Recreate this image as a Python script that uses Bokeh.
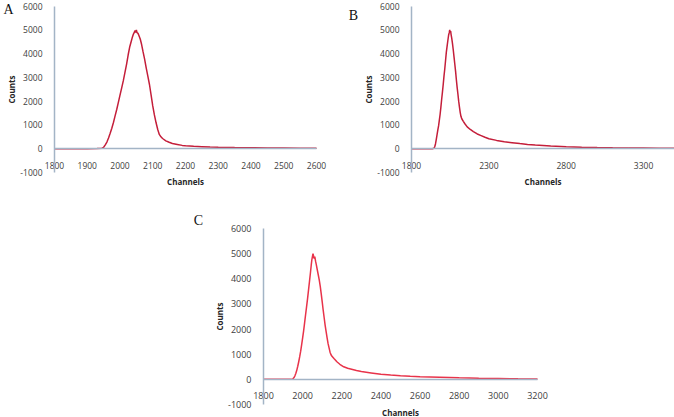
from bokeh.plotting import figure
from bokeh.models import FixedTicker, Label, Spacer
from bokeh.layouts import row, column
from bokeh.embed import file_html
from bokeh.resources import INLINE

# ---------------- data ----------------
chA = [1800, 1850, 1900, 1930, 1945, 1950, 1955, 1960, 1965, 1970, 1975, 1980, 1985, 1990, 1995,
       2000, 2005, 2010, 2015, 2020, 2025, 2030, 2034, 2038, 2041, 2044, 2046, 2048, 2050, 2052,
       2055, 2058, 2062, 2066, 2070, 2075, 2080, 2085, 2090, 2095, 2100, 2105, 2110, 2115, 2120,
       2125, 2130, 2140, 2150, 2160, 2175, 2190, 2200, 2225, 2250, 2275, 2300, 2350, 2400, 2450,
       2500, 2550, 2600]
cntA = [0, 0, 0, 5, 20, 60, 160, 280, 450, 650, 860, 1100, 1380, 1650, 1950,
        2250, 2550, 2850, 3200, 3550, 3950, 4300, 4500, 4700, 4820, 4900, 4970, 4880, 4990, 4880,
        4850, 4750, 4600, 4380, 4100, 3780, 3400, 3050, 2700, 2250, 1800, 1420, 1100, 820, 600,
        500, 430, 330, 270, 220, 180, 140, 120, 100, 85, 70, 60, 48, 40, 32,
        25, 20, 15]

chB = [1800, 1900, 1935, 1945, 1950, 1955, 1960, 1965, 1970, 1975, 1980, 1985, 1990, 1995, 2000,
       2005, 2010, 2015, 2020, 2025, 2030, 2035, 2040, 2044, 2047, 2050, 2053, 2056, 2060, 2065,
       2070, 2075, 2080, 2085, 2090, 2095, 2100, 2105, 2110, 2115, 2120, 2125, 2135, 2145, 2160,
       2180, 2200, 2225, 2250, 2275, 2300, 2350, 2400, 2450, 2500, 2550, 2600, 2700, 2800, 2900,
       3000, 3100, 3200, 3300, 3400, 3500]
cntB = [0, 0, 0, 20, 80, 200, 380, 580, 780, 960, 1200, 1450, 1750, 2080, 2380,
        2700, 3050, 3350, 3700, 4050, 4300, 4550, 4780, 4880, 5000, 4900, 4950, 4800, 4650, 4420,
        4150, 3850, 3550, 3250, 2900, 2580, 2300, 2000, 1750, 1520, 1350, 1260, 1150, 1050, 920,
        810, 720, 620, 550, 480, 420, 350, 295, 255, 215, 180, 155, 110, 82, 62,
        50, 40, 32, 26, 20, 16]

chC = [1800, 1900, 1940, 1950, 1955, 1960, 1965, 1970, 1975, 1980, 1985, 1990, 1995, 2000, 2005,
       2010, 2015, 2020, 2025, 2030, 2035, 2040, 2044, 2047, 2050, 2053, 2056, 2059, 2062, 2066,
       2070, 2075, 2080, 2085, 2090, 2095, 2100, 2105, 2110, 2115, 2120, 2125, 2130, 2135, 2140,
       2145, 2150, 2160, 2175, 2190, 2210, 2230, 2250, 2275, 2300, 2350, 2400, 2450, 2500, 2550,
       2600, 2700, 2800, 2900, 3000, 3100, 3200]
cntC = [0, 0, 0, 20, 60, 130, 230, 360, 520, 700, 900, 1120, 1380, 1650, 1930,
        2250, 2570, 2880, 3200, 3550, 3900, 4250, 4550, 4750, 4880, 5000, 4900, 4800, 4880, 4700,
        4550, 4350, 4150, 3950, 3700, 3400, 3080, 2750, 2450, 2150, 1900, 1650, 1420, 1250, 1080,
        980, 920, 830, 700, 600, 500, 440, 400, 350, 310, 255, 200, 170, 145, 125,
        108, 85, 62, 45, 33, 22, 15]

y_ticks = [-1000, 0, 1000, 2000, 3000, 4000, 5000, 6000]
y_tick_labels = ["-1000", "0", "1000", "2000", "3000", "4000", "5000", "6000"]
xA_ticks = [1800, 1900, 2000, 2100, 2200, 2300, 2400, 2500, 2600]
xB_ticks = [1800, 2300, 2800, 3300]
xC_ticks = [1800, 2000, 2200, 2400, 2600, 2800, 3000, 3200]
panel_letters = ["A", "B", "C"]
x_title = "Channels"
y_title = "Counts"

AXIS_COLOR = "#A3B4C6"
LABEL_COLOR = "#404040"
FONT = "Open Sans"


def make_panel(ch, cnt, color, x_end, x_ticks, letter, letter_px,
               fig_w, fig_h, box, tick_size):
    """box = (left, top, width, height) in px of the 1800..x_end / -1000..6000 area."""
    bl, bt, bw, bh = box
    x0, x1, y0, y1 = 1800, x_end, -1000, 6000
    sx = (x1 - x0) / bw
    sy = (y1 - y0) / bh
    xr = (x0 - bl * sx, x1 + (fig_w - bl - bw) * sx)
    yr = (y0 - (fig_h - bt - bh) * sy, y1 + bt * sy)
    p = figure(width=fig_w, height=fig_h, x_range=xr, y_range=yr,
               output_backend="svg", toolbar_location=None,
               min_border=0, min_border_left=0, min_border_right=0,
               min_border_top=0, min_border_bottom=0)
    p.line(ch, cnt, line_color=color, line_width=1.5)
    p.grid.visible = False
    p.outline_line_color = None
    p.background_fill_color = "white"
    p.border_fill_color = "white"

    xa = p.xaxis[0]
    xa.fixed_location = 0
    xa.bounds = (x0, x1)
    xa.ticker = FixedTicker(ticks=x_ticks)
    xa.major_label_overrides = {t: str(t) for t in x_ticks}
    xa.axis_label = x_title
    xa.axis_label_standoff = 4
    ya = p.yaxis[0]
    ya.fixed_location = x0
    ya.bounds = (y0, y1)
    ya.ticker = FixedTicker(ticks=y_ticks)
    ya.major_label_overrides = dict(zip(y_ticks, y_tick_labels))
    ya.axis_label = y_title
    ya.axis_label_standoff = 0
    for ax in (xa, ya):
        ax.axis_line_color = AXIS_COLOR
        ax.axis_line_width = 1.5
        ax.major_tick_line_color = None
        ax.minor_tick_line_color = None
        ax.major_label_text_font = FONT
        ax.major_label_text_font_size = tick_size
        ax.major_label_text_color = LABEL_COLOR
        ax.axis_label_text_font = FONT
        ax.axis_label_text_font_style = "bold"
        ax.axis_label_text_font_size = "8px"
        ax.axis_label_text_color = "#262626"
    xa.major_label_standoff = 7
    ya.major_label_standoff = 6

    lx = xr[0] + letter_px[0] * sx
    ly = yr[1] - letter_px[1] * sy
    p.add_layout(Label(x=lx, y=ly, text=letter, text_font="Liberation Serif",
                       text_font_size="14px", text_align="center", text_baseline="middle",
                       text_color="#111111"))
    return p


pA = make_panel(chA, cntA, "#C41E3A", 2600, xA_ticks, panel_letters[0], (8, 9),
                337, 190, (54, 5.5, 262, 166.5), "8.5px")
pB = make_panel(chB, cntB, "#C41E3A", 3500, xB_ticks, panel_letters[1], (16, 15),
                337, 190, (74, 5.5, 263, 166.5), "8.5px")
pC = make_panel(chC, cntC, "#E8334A", 3200, xC_ticks, panel_letters[2], (18, 30),
                380, 227, (83, 38, 274, 176), "9px")

layout = column(row(pA, pB), row(Spacer(width=180, height=227), pC))

open("out.html", "w").write(file_html(layout, INLINE))
